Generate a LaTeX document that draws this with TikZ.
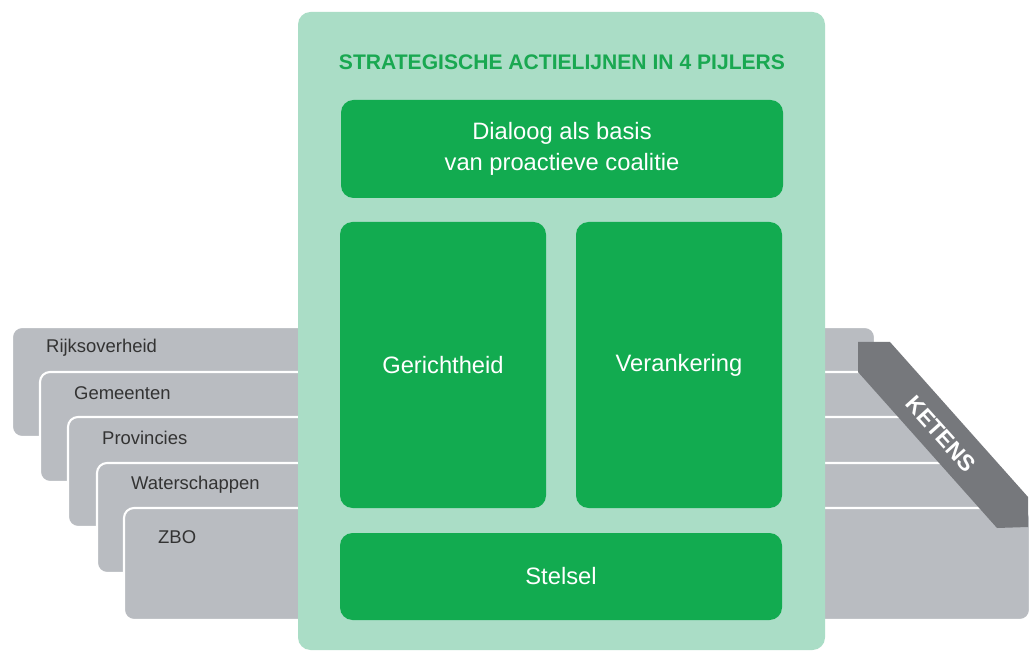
\documentclass[tikz,border=0pt]{standalone}
\usepackage{fontspec}
\setmainfont{Liberation Sans}
\usepackage{xcolor}
\usetikzlibrary{calc}

\definecolor{paneel}{HTML}{AADDC6}
\definecolor{pijler}{HTML}{12AB50}
\definecolor{titel}{HTML}{19A851}
\definecolor{laag}{HTML}{B9BCC1}
\definecolor{keten}{HTML}{76787C}

\begin{document}
\begin{tikzpicture}[
        layer/.style={anchor=north west, rectangle, rounded corners=0.2cm, fill=laag, draw=white, line width=1.2pt, minimum height=2.2cm, inner sep=0pt, outer sep=0pt},
        layertext/.style={anchor=west, font=\fontsize{10.5}{12}\selectfont, text=black!80},
        pillar/.style={rectangle, rounded corners=0.25cm, fill=pijler, inner sep=0pt, outer sep=0pt, text=white, align=center, font=\fontsize{13.5}{18}\selectfont}
    ]

        \useasboundingbox (0,0) rectangle (20.7,-13.06);
        \fill [white] (0,0) rectangle (20.7,-13.06);

        %% Layers
        \node (rijk) [layer, minimum width=17.26cm] at (0.24,-6.54) {};
        \node (gem) [layer, minimum width=17.3cm] at (0.8,-7.44) {};
        \node (prov) [layer, minimum width=17.54cm] at (1.36,-8.34) {};
        \node (water) [layer, minimum width=17.76cm] at (1.94,-9.26) {};
        \node (zbo) [layer, minimum width=18.12cm, minimum height=2.24cm] at (2.48,-10.16) {};

        %% Layer names
        \node (rijktext) [layertext] at ($(rijk.north west) + (0.56,-0.42)$) {Rijksoverheid};
        \node (gemtext) [layertext] at ($(gem.north west) + (0.56,-0.42)$) {Gemeenten};
        \node (provtext) [layertext] at ($(prov.north west) + (0.56,-0.42)$) {Provincies};
        \node (watertext) [layertext] at ($(water.north west) + (0.56,-0.44)$) {Waterschappen};
        \node (zbotext) [layertext] at ($(zbo.north west) + (0.56,-0.58)$) {ZBO};

        %% Panel
        \node (panel) [rectangle, rounded corners=0.25cm, fill=paneel, minimum width=10.54cm, minimum height=12.76cm, inner sep=0pt] at (11.23,-6.62) {};
        \node (title) [text=titel, font=\fontsize{12}{14}\bfseries\selectfont] at (11.24,-1.24) {STRATEGISCHE ACTIELIJNEN IN 4 PIJLERS};

        %% Pillars
        \node (dialoog) [pillar, minimum width=8.84cm, minimum height=1.96cm] at (11.24,-2.98) {Dialoog als basis\\van proactieve coalitie};
        \node (gericht) [pillar, minimum width=4.12cm, minimum height=5.72cm] at (8.86,-7.3) {Gerichtheid};
        \node (veranker) [pillar, minimum width=4.12cm, minimum height=5.72cm] at (13.58,-7.3) {Verankering};
        \node (stelsel) [pillar, minimum width=8.84cm, minimum height=1.74cm] at (11.22,-11.53) {Stelsel};

        %% Ketens
        \fill [keten] (17.16,-6.84) -- (17.8,-6.84) -- (20.56,-9.94) -- (20.56,-10.54) -- (19.94,-10.56) -- (17.16,-7.44) -- cycle;
        \node (ketens) [rotate=-48, text=white, font=\fontsize{13}{15}\bfseries\selectfont] at (18.82,-8.68) {KETENS};

    \end{tikzpicture}
\end{document}
